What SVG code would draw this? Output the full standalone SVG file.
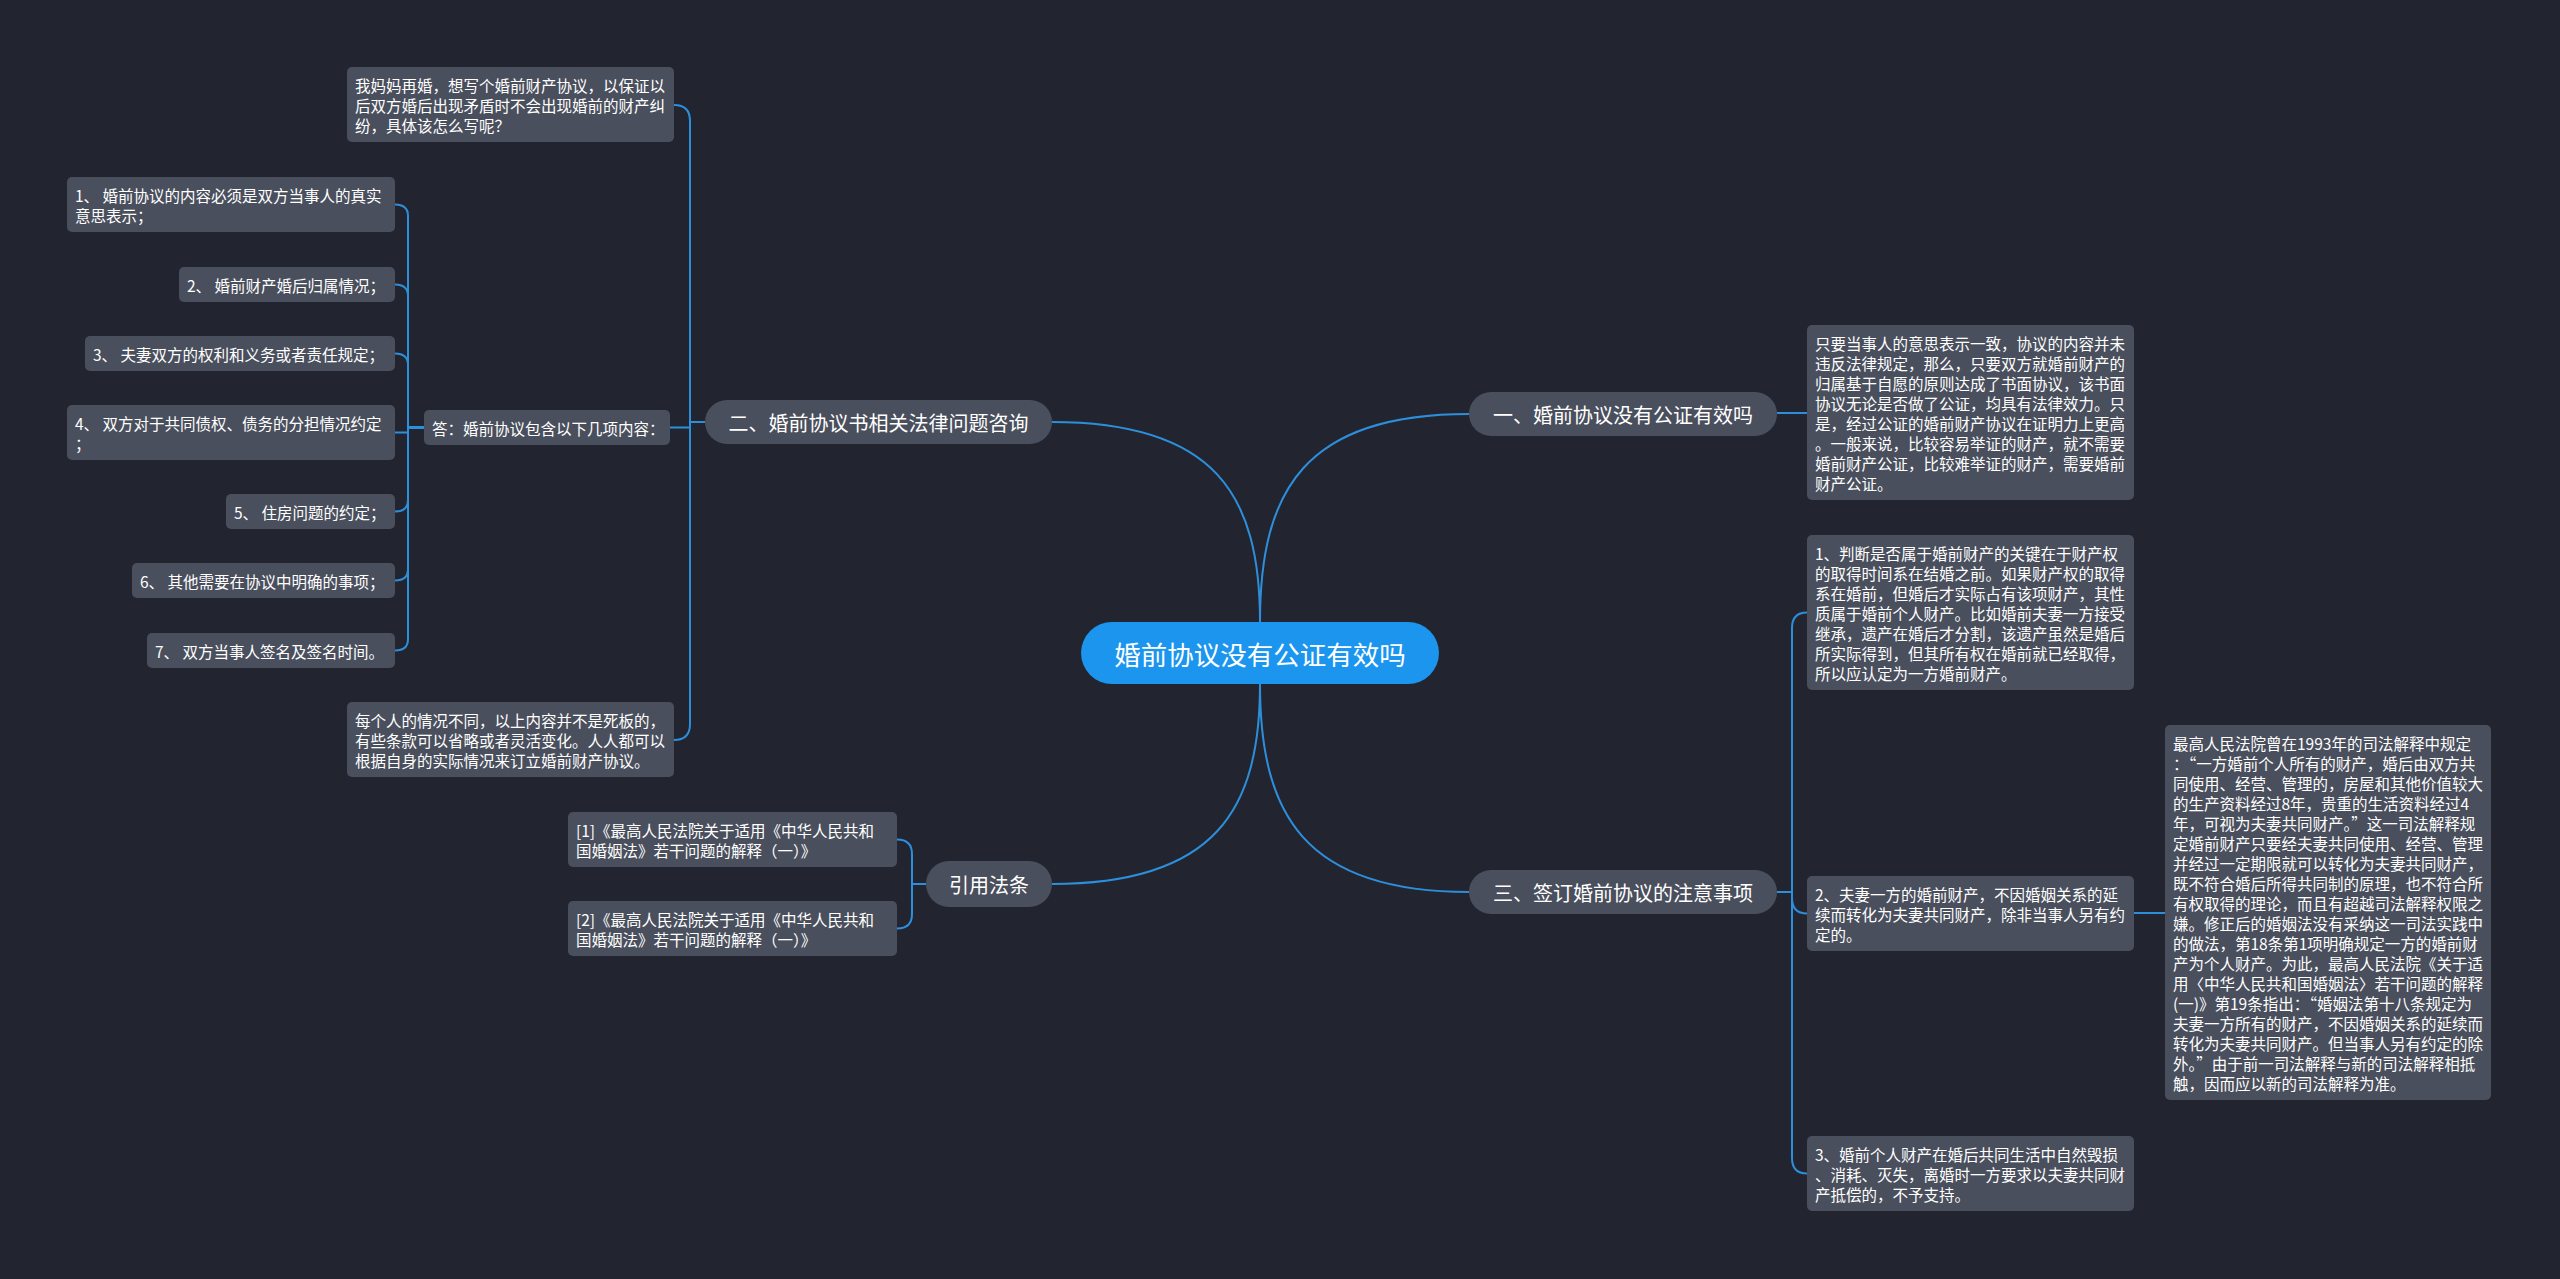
<svg xmlns="http://www.w3.org/2000/svg" width="2560" height="1279" viewBox="0 0 2560 1279">
<style>
.bg{fill:#22252f}
.n{fill:#4a4f5d}
.b{fill:#4a4f5d}
.r{fill:#1b95ee}
.t{font-family:"Noto Sans CJK SC","Microsoft YaHei",sans-serif;font-size:15.5px;fill:#ffffff;dominant-baseline:central}
.tb{font-family:"Noto Sans CJK SC","Microsoft YaHei",sans-serif;font-size:20px;fill:#ffffff;dominant-baseline:central;text-anchor:middle}
.tr{font-family:"Noto Sans CJK SC","Microsoft YaHei",sans-serif;font-size:26.5px;fill:#ffffff;dominant-baseline:central;text-anchor:middle}
.c{fill:none;stroke:#2d8fdc;stroke-width:2}
</style>
<rect class="bg" x="0" y="0" width="2560" height="1279"/>
<g id="connectors">
<path class="c" d="M 1260 622 C 1260 490 1305 414 1469 414"/>
<path class="c" d="M 1260 622 C 1260 495 1215 422 1052 422"/>
<path class="c" d="M 1260 684 C 1260 810 1215 884 1052 884"/>
<path class="c" d="M 1260 684 C 1260 815 1305 892 1469 892"/>
<path class="c" d="M 1777 413 H 1807"/>
<path class="c" d="M 705 422 H 690 V 121 Q 690 105 674 105"/>
<path class="c" d="M 705 422 H 690 V 427.5 H 670"/>
<path class="c" d="M 705 422 H 690 V 724 Q 690 740 674 740"/>
<path class="c" d="M 424 427.5 H 408 V 216 Q 408 204.5 395 204.5"/>
<path class="c" d="M 424 427.5 H 408 V 296 Q 408 284.5 395 284.5"/>
<path class="c" d="M 424 427.5 H 408 V 365 Q 408 353.5 395 353.5"/>
<path class="c" d="M 424 427.5 H 408 V 432.5 H 395"/>
<path class="c" d="M 424 427.5 H 408 V 500 Q 408 511.5 395 511.5"/>
<path class="c" d="M 424 427.5 H 408 V 569 Q 408 580.5 395 580.5"/>
<path class="c" d="M 424 427.5 H 408 V 639 Q 408 650.5 395 650.5"/>
<path class="c" d="M 926 884 H 912 V 854 Q 912 839.5 897 839.5"/>
<path class="c" d="M 926 884 H 912 V 914 Q 912 928.5 897 928.5"/>
<path class="c" d="M 1777 892 H 1792 V 628 Q 1792 612.5 1807 612.5"/>
<path class="c" d="M 1777 892 H 1792 V 898 Q 1792 913.5 1807 913.5"/>
<path class="c" d="M 1777 892 H 1792 V 1158 Q 1792 1173.5 1807 1173.5"/>
<path class="c" d="M 2134 913 H 2165"/>
</g>
<g id="root">
<rect class="r" x="1081" y="622" width="358" height="62" rx="31"/>
<text class="tr" x="1260" y="653">婚前协议没有公证有效吗</text>
</g>
<g id="b1">
<rect class="b" x="1469" y="392" width="308" height="44" rx="22"/>
<text class="tb" x="1623" y="414">一、婚前协议没有公证有效吗</text>
</g>
<g id="b2">
<rect class="b" x="705" y="400" width="347" height="44" rx="22"/>
<text class="tb" x="878.5" y="422">二、婚前协议书相关法律问题咨询</text>
</g>
<g id="b3">
<rect class="b" x="926" y="861" width="126" height="46" rx="23"/>
<text class="tb" x="989" y="884">引用法条</text>
</g>
<g id="b4">
<rect class="b" x="1469" y="870" width="308" height="44" rx="22"/>
<text class="tb" x="1623" y="892">三、签订婚前协议的注意事项</text>
</g>
<g id="leaf1">
<rect class="n" x="1807" y="325" width="327" height="175" rx="5"/>
<text class="t"><tspan x="1815" y="343">只要当事人的意思表示一致，协议的内容并未</tspan><tspan x="1815" y="363">违反法律规定，那么，只要双方就婚前财产的</tspan><tspan x="1815" y="383">归属基于自愿的原则达成了书面协议，该书面</tspan><tspan x="1815" y="403">协议无论是否做了公证，均具有法律效力。只</tspan><tspan x="1815" y="423">是，经过公证的婚前财产协议在证明力上更高</tspan><tspan x="1815" y="443">。一般来说，比较容易举证的财产，就不需要</tspan><tspan x="1815" y="463">婚前财产公证，比较难举证的财产，需要婚前</tspan><tspan x="1815" y="483">财产公证。</tspan></text>
</g>
<g id="q">
<rect class="n" x="347" y="67" width="327" height="75" rx="5"/>
<text class="t"><tspan x="355" y="85">我妈妈再婚，想写个婚前财产协议，以保证以</tspan><tspan x="355" y="105">后双方婚后出现矛盾时不会出现婚前的财产纠</tspan><tspan x="355" y="125">纷，具体该怎么写呢？</tspan></text>
</g>
<g id="ans">
<rect class="n" x="424" y="410" width="246" height="35" rx="5"/>
<text class="t" x="432" y="427.5">答：婚前协议包含以下几项内容：</text>
</g>
<g id="i1">
<rect class="n" x="67" y="177" width="328" height="55" rx="5"/>
<text class="t"><tspan x="75" y="195">1、 婚前协议的内容必须是双方当事人的真实</tspan><tspan x="75" y="215">意思表示；</tspan></text>
</g>
<g id="i2">
<rect class="n" x="179" y="267" width="216" height="35" rx="5"/>
<text class="t" x="187" y="284.5">2、 婚前财产婚后归属情况；</text>
</g>
<g id="i3">
<rect class="n" x="85" y="336" width="310" height="35" rx="5"/>
<text class="t" x="93" y="353.5">3、 夫妻双方的权利和义务或者责任规定；</text>
</g>
<g id="i4">
<rect class="n" x="67" y="405" width="328" height="55" rx="5"/>
<text class="t"><tspan x="75" y="423">4、 双方对于共同债权、债务的分担情况约定</tspan><tspan x="75" y="443">；</tspan></text>
</g>
<g id="i5">
<rect class="n" x="226" y="494" width="169" height="35" rx="5"/>
<text class="t" x="234" y="511.5">5、 住房问题的约定；</text>
</g>
<g id="i6">
<rect class="n" x="132" y="563" width="263" height="35" rx="5"/>
<text class="t" x="140" y="580.5">6、 其他需要在协议中明确的事项；</text>
</g>
<g id="i7">
<rect class="n" x="147" y="633" width="248" height="35" rx="5"/>
<text class="t" x="155" y="650.5">7、 双方当事人签名及签名时间。</text>
</g>
<g id="every">
<rect class="n" x="347" y="702" width="327" height="75" rx="5"/>
<text class="t"><tspan x="355" y="720">每个人的情况不同，以上内容并不是死板的，</tspan><tspan x="355" y="740">有些条款可以省略或者灵活变化。人人都可以</tspan><tspan x="355" y="760">根据自身的实际情况来订立婚前财产协议。</tspan></text>
</g>
<g id="ref1">
<rect class="n" x="568" y="812" width="329" height="55" rx="5"/>
<text class="t"><tspan x="576" y="830">[1]《最高人民法院关于适用《中华人民共和</tspan><tspan x="576" y="850">国婚姻法》若干问题的解释（一）》</tspan></text>
</g>
<g id="ref2">
<rect class="n" x="568" y="901" width="329" height="55" rx="5"/>
<text class="t"><tspan x="576" y="919">[2]《最高人民法院关于适用《中华人民共和</tspan><tspan x="576" y="939">国婚姻法》若干问题的解释（一）》</tspan></text>
</g>
<g id="s1">
<rect class="n" x="1807" y="535" width="327" height="155" rx="5"/>
<text class="t"><tspan x="1815" y="553">1、判断是否属于婚前财产的关键在于财产权</tspan><tspan x="1815" y="573">的取得时间系在结婚之前。如果财产权的取得</tspan><tspan x="1815" y="593">系在婚前，但婚后才实际占有该项财产，其性</tspan><tspan x="1815" y="613">质属于婚前个人财产。比如婚前夫妻一方接受</tspan><tspan x="1815" y="633">继承，遗产在婚后才分割，该遗产虽然是婚后</tspan><tspan x="1815" y="653">所实际得到，但其所有权在婚前就已经取得，</tspan><tspan x="1815" y="673">所以应认定为一方婚前财产。</tspan></text>
</g>
<g id="s2">
<rect class="n" x="1807" y="876" width="327" height="75" rx="5"/>
<text class="t"><tspan x="1815" y="894">2、夫妻一方的婚前财产，不因婚姻关系的延</tspan><tspan x="1815" y="914">续而转化为夫妻共同财产，除非当事人另有约</tspan><tspan x="1815" y="934">定的。</tspan></text>
</g>
<g id="s2a">
<rect class="n" x="2165" y="725" width="326" height="375" rx="5"/>
<text class="t"><tspan x="2173" y="743">最高人民法院曾在1993年的司法解释中规定</tspan><tspan x="2173" y="763">：“一方婚前个人所有的财产，婚后由双方共</tspan><tspan x="2173" y="783">同使用、经营、管理的，房屋和其他价值较大</tspan><tspan x="2173" y="803">的生产资料经过8年，贵重的生活资料经过4</tspan><tspan x="2173" y="823">年，可视为夫妻共同财产。”这一司法解释规</tspan><tspan x="2173" y="843">定婚前财产只要经夫妻共同使用、经营、管理</tspan><tspan x="2173" y="863">并经过一定期限就可以转化为夫妻共同财产，</tspan><tspan x="2173" y="883">既不符合婚后所得共同制的原理，也不符合所</tspan><tspan x="2173" y="903">有权取得的理论，而且有超越司法解释权限之</tspan><tspan x="2173" y="923">嫌。修正后的婚姻法没有采纳这一司法实践中</tspan><tspan x="2173" y="943">的做法，第18条第1项明确规定一方的婚前财</tspan><tspan x="2173" y="963">产为个人财产。为此，最高人民法院《关于适</tspan><tspan x="2173" y="983">用〈中华人民共和国婚姻法〉若干问题的解释</tspan><tspan x="2173" y="1003">(一)》第19条指出：“婚姻法第十八条规定为</tspan><tspan x="2173" y="1023">夫妻一方所有的财产，不因婚姻关系的延续而</tspan><tspan x="2173" y="1043">转化为夫妻共同财产。但当事人另有约定的除</tspan><tspan x="2173" y="1063">外。”由于前一司法解释与新的司法解释相抵</tspan><tspan x="2173" y="1083">触，因而应以新的司法解释为准。</tspan></text>
</g>
<g id="s3">
<rect class="n" x="1807" y="1136" width="327" height="75" rx="5"/>
<text class="t"><tspan x="1815" y="1154">3、婚前个人财产在婚后共同生活中自然毁损</tspan><tspan x="1815" y="1174">、消耗、灭失，离婚时一方要求以夫妻共同财</tspan><tspan x="1815" y="1194">产抵偿的，不予支持。</tspan></text>
</g>
</svg>
